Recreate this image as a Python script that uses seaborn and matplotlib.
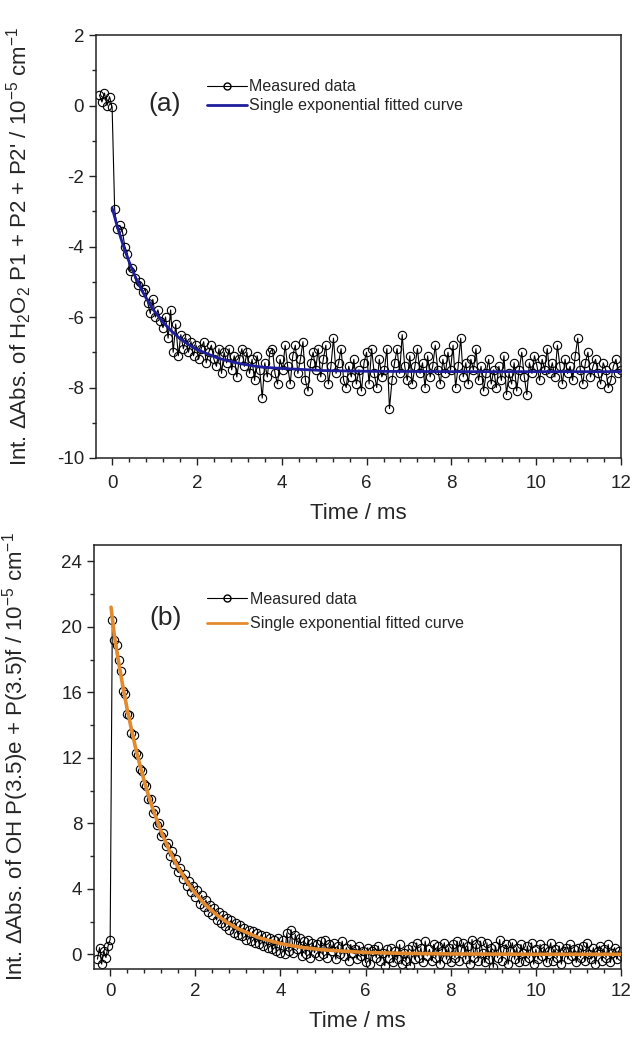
import numpy as np
import pandas as pd
import matplotlib
matplotlib.use("Agg")
import matplotlib.pyplot as plt
from matplotlib.ticker import MultipleLocator
from matplotlib.lines import Line2D
import seaborn as sns

# ---------------- data: panel (a) H2O2 ----------------
a_pre_t = [-0.30, -0.24, -0.18, -0.12, -0.06, 0.0]
a_pre_y = [0.30, 0.10, 0.35, 0.00, 0.25, -0.05]
a_dt = 0.06
a_n = 200
a_y = [
    -2.95, -3.5, -3.4, -3.55, -4.0, -4.2, -4.7, -4.6, -4.9, -5.1,
    -5.0, -5.3, -5.2, -5.6, -5.9, -5.5, -6.0, -5.8, -6.1, -6.3,
    -6.0, -6.6, -5.8, -7.0, -6.2, -7.1, -6.5, -6.9, -6.6, -7.0,
    -6.7, -7.1, -6.8, -7.2, -6.9, -6.7, -7.3, -7.0, -6.8, -7.2,
    -7.4, -6.9, -7.6, -7.0, -7.3, -6.9, -7.5, -7.1, -7.7, -7.2,
    -6.9, -7.4, -7.0, -7.6, -7.2, -7.8, -7.1, -7.5, -8.3, -7.3,
    -7.7, -7.0, -6.9, -7.6, -7.9, -7.2, -7.5, -6.8, -7.4, -7.9,
    -7.1, -6.8, -7.6, -7.2, -6.7, -7.8, -8.1, -7.3, -7.0, -7.5,
    -6.9, -7.7, -7.2, -6.8, -7.9, -7.4, -6.6, -7.6, -7.3, -6.9,
    -7.8, -8.0, -7.4, -7.7, -7.2, -7.9, -7.5, -8.1, -7.3, -7.0,
    -7.9, -6.9, -7.6, -8.0, -7.2, -7.7, -7.5, -6.9, -8.6, -7.8,
    -7.3, -6.9, -7.6, -6.5, -7.4, -7.8, -7.1, -7.9, -7.4, -6.9,
    -7.6, -7.3, -8.0, -7.1, -7.7, -7.4, -6.8, -7.5, -7.9, -7.2,
    -7.6, -7.0, -7.5, -6.8, -8.0, -7.4, -6.6, -7.7, -7.3, -7.9,
    -7.2, -7.5, -6.9, -7.8, -7.4, -8.1, -7.6, -7.2, -7.9, -7.5,
    -8.0, -7.4, -7.8, -7.1, -8.2, -7.6, -7.9, -7.3, -8.1, -7.5,
    -7.0, -7.7, -8.2, -7.3, -7.6, -7.1, -7.4, -7.8, -7.2, -7.5,
    -6.9, -7.6, -7.3, -7.7, -6.8, -7.4, -7.9, -7.2, -7.6, -7.4,
    -7.8, -7.1, -6.6, -7.5, -7.9, -7.3, -7.0, -7.7, -7.4, -7.2,
    -7.6, -7.9, -7.3, -7.5, -8.0, -7.8, -7.4, -7.2, -7.6, -7.5,
]
a_fit_t = [0.0, 0.1, 0.2, 0.3, 0.4, 0.5, 0.6, 0.7, 0.8, 0.9, 1.0, 1.2, 1.4,
           1.6, 1.8, 2.0, 2.5, 3.0, 3.5, 4.0, 5.0, 6.0, 8.0, 12.0]
a_fit_y = [-2.90, -3.34, -3.74, -4.11, -4.43, -4.73, -5.00, -5.24, -5.46,
           -5.66, -5.84, -6.15, -6.40, -6.61, -6.78, -6.92, -7.17, -7.32,
           -7.42, -7.46, -7.52, -7.54, -7.55, -7.55]

# ---------------- data: panel (b) OH ----------------
b_pre_t = [-0.30, -0.25, -0.20, -0.15, -0.10, -0.05, 0.0]
b_pre_y = [-0.3, 0.4, -0.6, 0.2, -0.2, 0.5, 0.9]
b_dt = 0.05
b_n = 240
b_y = [
    20.4, 19.2, 18.9, 18.0, 17.3, 16.1, 15.9, 14.7, 14.6, 13.5,
    13.4, 12.3, 12.2, 11.3, 11.2, 10.4, 10.3, 9.5, 9.5, 8.6,
    8.8, 7.9, 8.0, 7.2, 7.4, 6.6, 6.8, 6.0, 6.3, 5.5,
    5.8, 5.0, 5.3, 4.6, 4.9, 4.2, 4.5, 3.8, 4.2, 3.5,
    3.9, 3.1, 3.6, 2.9, 3.3, 2.6, 3.0, 2.4, 2.8, 2.1,
    2.6, 1.9, 2.4, 1.7, 2.2, 1.5, 2.1, 1.3, 1.9, 1.2,
    1.8, 1.1, 1.6, 0.9, 1.5, 0.8, 1.4, 0.7, 1.3, 0.6,
    1.2, 0.5, 1.1, 0.4, 1.0, 0.3, 0.9, 0.2, 1.0, 0.1,
    0.9, 0.0, 1.3, 0.2, 1.5, 0.1, 1.2, 0.3, 1.0, -0.1,
    0.8, 0.0, 0.9, -0.2, 0.7, 0.1, 0.6, -0.1, 0.8, 0.0,
    0.9, -0.2, 0.6, 0.2, 0.7, -0.3, 0.5, 0.0, 0.8, -0.1,
    0.4, -0.4, 0.6, 0.1, 0.3, -0.3, 0.5, -0.1, 0.2, -0.5,
    0.4, -0.6, 0.2, 0.3, -0.2, 0.5, -0.4, 0.1, -0.7, 0.3,
    -0.2, 0.4, -0.5, 0.2, -0.3, 0.6, -0.6, 0.1, -0.4, 0.3,
    -0.7, 0.5, -0.3, 0.7, -0.2, 0.4, -0.5, 0.8, -0.1, 0.3,
    -0.4, 0.6, -0.2, 0.5, -0.6, 0.2, 0.7, -0.3, 0.4, -0.5,
    0.6, -0.2, 0.8, -0.4, 0.3, 0.7, -0.3, 0.5, -0.6, 0.9,
    -0.2, 0.6, -0.4, 0.8, 0.1, -0.5, 0.7, -0.3, 0.4, -0.8,
    0.5, -0.2, 0.9, -0.4, 0.3, 0.6, -0.6, 0.2, 0.7, -0.3,
    0.4, -0.5, 0.6, 0.1, -0.4, 0.5, -0.2, 0.7, -0.6, 0.3,
    -0.3, 0.6, -0.1, 0.4, -0.5, 0.2, 0.7, -0.4, 0.3, -0.2,
    0.5, -0.6, 0.2, 0.4, -0.3, 0.6, -0.1, 0.3, -0.5, 0.4,
    -0.2, 0.5, -0.4, 0.7, 0.0, -0.3, 0.4, -0.6, 0.2, 0.5,
    -0.4, 0.3, -0.2, 0.6, -0.5, 0.1, 0.4, -0.3, 0.2, -0.1,
]
b_fit_t = [0.02, 0.1, 0.2, 0.3, 0.4, 0.5, 0.6, 0.7, 0.8, 0.9, 1.0, 1.2, 1.4,
           1.6, 1.8, 2.0, 2.25, 2.5, 2.75, 3.0, 3.5, 4.0, 4.5, 5.0, 6.0, 7.0,
           8.0, 10.0, 12.0]
b_fit_y = [21.2, 19.43, 17.82, 16.33, 14.97, 13.73, 12.58, 11.54, 10.58, 9.70,
           8.89, 7.47, 6.28, 5.28, 4.44, 3.73, 2.99, 2.41, 1.94, 1.56, 1.01,
           0.65, 0.42, 0.27, 0.11, 0.05, 0.02, 0.0, 0.0]

x_ticks = [0, 2, 4, 6, 8, 10, 12]
a_yticks = [2, 0, -2, -4, -6, -8, -10]
b_yticks = [0, 4, 8, 12, 16, 20, 24]

legend_labels = ["Measured data", "Single exponential fitted curve"]
a_ylabel = "Int. \u0394Abs. of H$_2$O$_2$ P1 + P2 + P2' / 10$^{-5}$ cm$^{-1}$"
b_ylabel = "Int. \u0394Abs. of OH P(3.5)e + P(3.5)f / 10$^{-5}$ cm$^{-1}$"
x_label = "Time / ms"

# ---------------- build frames ----------------
a_t = a_pre_t + list(np.round(np.linspace(a_dt, a_dt * a_n, a_n), 3))
df_a = pd.DataFrame({"t": a_t, "y": a_pre_y + a_y})
b_t = b_pre_t + list(np.round(np.linspace(b_dt, b_dt * b_n, b_n), 3))
df_b = pd.DataFrame({"t": b_t, "y": b_pre_y + b_y})
fit_a = pd.DataFrame({"t": a_fit_t, "y": a_fit_y})
fit_b = pd.DataFrame({"t": b_fit_t, "y": b_fit_y})

sns.set_theme(style="ticks")
plt.rcParams["font.family"] = ["Liberation Sans", "DejaVu Sans"]
plt.rcParams["mathtext.default"] = "regular"
plt.rcParams["axes.unicode_minus"] = False

W, H = 637, 1037
fig = plt.figure(figsize=(W / 100, H / 100), dpi=100)
fig.patch.set_facecolor("white")

def px_axes(l, r, t, b):
    return [l / W, 1 - b / H, (r - l) / W, (b - t) / H]

ax1 = fig.add_axes(px_axes(96, 621, 35, 458))
ax2 = fig.add_axes(px_axes(94, 621, 545, 969))

BLUE = "#1e1e9c"
ORANGE = "#e48a2e"

def style(ax, ylim, yticks, ymin_step, ylabel, xpad):
    ax.set_xlim(-0.38, 12)
    ax.set_ylim(*ylim)
    ax.set_xticks(x_ticks)
    ax.set_yticks(yticks)
    ax.xaxis.set_minor_locator(MultipleLocator(0.4))
    ax.yaxis.set_minor_locator(MultipleLocator(ymin_step))
    ax.tick_params(which="major", direction="out", length=5, width=1,
                   labelsize=13.5, colors="#222222", top=False, right=False)
    ax.tick_params(axis="x", which="major", pad=xpad)
    ax.tick_params(which="minor", direction="out", length=3, width=1,
                   top=False, right=False)
    for s in ax.spines.values():
        s.set_visible(True)
        s.set_linewidth(1.1)
        s.set_color("#222222")
    ax.set_xlabel(x_label, fontsize=16, labelpad=8)
    ax.set_ylabel(ylabel, fontsize=16, labelpad=4)
    ax.set_facecolor("white")

# panel a
sns.lineplot(data=df_a, x="t", y="y", ax=ax1, color="black", linewidth=0.8,
             marker="o", markersize=6, markerfacecolor="none",
             markeredgecolor="black", markeredgewidth=0.8, sort=False,
             estimator=None, zorder=2)
sns.lineplot(data=fit_a, x="t", y="y", ax=ax1, color=BLUE, linewidth=2.0,
             estimator=None, sort=False, zorder=3)
style(ax1, (-10, 2), a_yticks, 1, a_ylabel, 7)

# panel b
sns.lineplot(data=df_b, x="t", y="y", ax=ax2, color="black", linewidth=0.8,
             marker="o", markersize=6, markerfacecolor="none",
             markeredgecolor="black", markeredgewidth=0.8, sort=False,
             estimator=None, zorder=2)
sns.lineplot(data=fit_b, x="t", y="y", ax=ax2, color=ORANGE, linewidth=2.6,
             estimator=None, sort=False, zorder=3)
style(ax2, (-0.9, 25), b_yticks, 2, b_ylabel, 5)

def add_legend(ax, color, anchor, spacing):
    handles = [
        Line2D([], [], color="black", linewidth=0.8, marker="o", markersize=5,
               markerfacecolor="none", markeredgecolor="black"),
        Line2D([], [], color=color, linewidth=2.0),
    ]
    ax.legend(handles, legend_labels, loc="upper left", bbox_to_anchor=anchor,
              frameon=False, fontsize=11.5, handlelength=2.5,
              handletextpad=0.15, labelspacing=spacing, borderpad=0,
              borderaxespad=0)

add_legend(ax1, BLUE, (0.211, 0.895), 0.25)
add_legend(ax2, ORANGE, (0.215, 0.89), 0.6)

ax1.text(0.131, 0.838, "(a)", transform=ax1.transAxes, fontsize=19,
         ha="center", va="center")
ax2.text(0.135, 0.828, "(b)", transform=ax2.transAxes, fontsize=19,
         ha="center", va="center")

ax1.yaxis.set_label_coords(-0.118, 0.5)
ax2.yaxis.set_label_coords(-0.12, 0.5)

fig.savefig("out.png", dpi=100, facecolor="white")
